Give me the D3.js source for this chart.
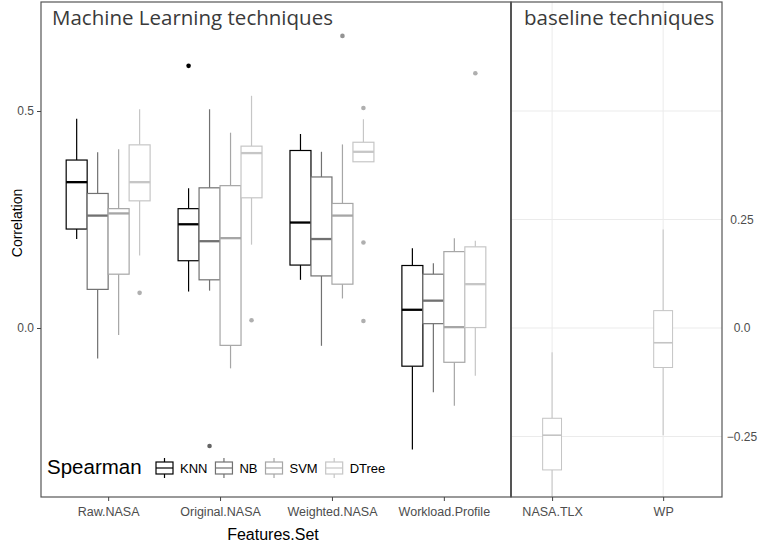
<!DOCTYPE html>
<html>
<head>
<meta charset="utf-8">
<script src="https://cdn.jsdelivr.net/npm/d3@7"></script>
<style>
  html, body { margin: 0; padding: 0; background: #fff; }
  svg { display: block; }
</style>
</head>
<body>
<svg id="chart" width="760" height="546"></svg>
<script>
// Feature sets on the machine-learning side and the baseline techniques
const featureSets = ["Raw.NASA", "Original.NASA", "Weighted.NASA", "Workload.Profile"];
const models = ["KNN", "NB", "SVM", "DTree"];
const baselines = ["NASA.TLX", "WP"];

// Five-number summaries per feature set: [lower whisker, Q1, median, Q3, upper whisker]
const knnStats = [
  [0.205, 0.228, 0.336, 0.387, 0.482],
  [0.084, 0.155, 0.239, 0.275, 0.322],
  [0.111, 0.145, 0.243, 0.409, 0.447],
  [-0.280, -0.088, 0.042, 0.144, 0.184]
];
const nbStats = [
  [-0.070, 0.089, 0.259, 0.310, 0.405],
  [0.086, 0.111, 0.200, 0.323, 0.504],
  [-0.041, 0.120, 0.205, 0.348, 0.406],
  [-0.148, 0.010, 0.063, 0.124, 0.149]
];
const svmStats = [
  [-0.016, 0.124, 0.264, 0.275, 0.412],
  [-0.093, -0.040, 0.207, 0.328, 0.450],
  [0.068, 0.101, 0.259, 0.287, 0.423],
  [-0.179, -0.079, 0.002, 0.176, 0.207]
];
const dtreeStats = [
  [0.167, 0.293, 0.336, 0.422, 0.504],
  [0.192, 0.300, 0.403, 0.419, 0.535],
  [0.383, 0.383, 0.406, 0.428, 0.481],
  [-0.110, 0.001, 0.101, 0.187, 0.201]
];

// Outlying correlations per feature set
const knnOutliers = [[], [0.604], [], []];
const nbOutliers = [[], [-0.272], [], []];
const svmOutliers = [[], [], [0.673], []];
const dtreeOutliers = [[0.081], [0.018], [0.507, 0.197, 0.016], [0.587]];

// Baseline techniques
const baselineStats = [
  [-0.389, -0.327, -0.247, -0.208, -0.056],
  [-0.247, -0.091, -0.034, 0.040, 0.227]
];

// Axis ticks
const leftTicks = [0.0, 0.5];
const rightTicks = [-0.25, 0.0, 0.25];
const rightGrid = [-0.25, 0.0, 0.25, 0.5];

const modelStats = [knnStats, nbStats, svmStats, dtreeStats];
const modelOutliers = [knnOutliers, nbOutliers, svmOutliers, dtreeOutliers];
const modelColors = ["#000000", "#717171", "#a6a6a6", "#c6c6c6"];

const svg = d3.select("#chart");
const panelTop = 2, panelBottom = 497;
const leftPanel = { x0: 41, x1: 511 };
const rightPanel = { x0: 511, x1: 722 };

const y = d3.scaleLinear().domain([-0.25, 0.5]).range([436.5, 111]);
const xL = d3.scaleLinear().domain([0.4, 4.6]).range([leftPanel.x0, leftPanel.x1]);
const xR = d3.scaleLinear().domain([0.63, 2.53]).range([rightPanel.x0, rightPanel.x1]);

const dodge = 0.75 / models.length;          // width of each dodged box in category units
const sansFont = "'Liberation Sans', Arial, sans-serif";

// Right panel grid
const gR = svg.append("g");
gR.selectAll("line.h").data(rightGrid).join("line")
  .attr("x1", rightPanel.x0).attr("x2", rightPanel.x1)
  .attr("y1", d => y(d)).attr("y2", d => y(d))
  .attr("stroke", "#ebebeb").attr("stroke-width", 1);
gR.selectAll("line.v").data(baselines).join("line")
  .attr("x1", (d, i) => xR(i + 1)).attr("x2", (d, i) => xR(i + 1))
  .attr("y1", panelTop).attr("y2", panelBottom)
  .attr("stroke", "#ebebeb").attr("stroke-width", 1);

// Draws one box-and-whisker glyph
function drawBox(g, cx, halfW, s, color, lw, medW) {
  g.append("line").attr("x1", cx).attr("x2", cx)
    .attr("y1", y(s[4])).attr("y2", y(s[3]))
    .attr("stroke", color).attr("stroke-width", lw);
  g.append("line").attr("x1", cx).attr("x2", cx)
    .attr("y1", y(s[1])).attr("y2", y(s[0]))
    .attr("stroke", color).attr("stroke-width", lw);
  g.append("rect")
    .attr("x", cx - halfW).attr("width", 2 * halfW)
    .attr("y", y(s[3])).attr("height", y(s[1]) - y(s[3]))
    .attr("fill", "#fff").attr("stroke", color).attr("stroke-width", lw);
  g.append("line").attr("x1", cx - halfW).attr("x2", cx + halfW)
    .attr("y1", y(s[2])).attr("y2", y(s[2]))
    .attr("stroke", color).attr("stroke-width", medW);
}

// Machine-learning boxes, dodged by model
const gL = svg.append("g");
modelStats.forEach((stats, m) => {
  const color = modelColors[m];
  stats.forEach((s, c) => {
    const center = (c + 1) + (m - (models.length - 1) / 2) * dodge;
    const cx = xL(center);
    const halfW = (xL(dodge) - xL(0)) / 2;
    drawBox(gL, cx, halfW, s, color, 1.2, 2.3);
    gL.selectAll(null).data(modelOutliers[m][c]).join("circle")
      .attr("cx", cx).attr("cy", d => y(d)).attr("r", 2.3)
      .attr("fill", m === 0 ? color : d3.color(color).darker(0.35));
  });
});

// Baseline boxes
baselineStats.forEach((s, i) => {
  const cx = xR(i + 1);
  const halfW = (xR(0.17) - xR(0)) / 2;
  drawBox(gR, cx, halfW, s, "#c4c4c4", 1, 1.6);
});

// Panel frames
svg.append("rect").attr("x", leftPanel.x0).attr("y", panelTop)
  .attr("width", leftPanel.x1 - leftPanel.x0).attr("height", panelBottom - panelTop)
  .attr("fill", "none").attr("stroke", "#555").attr("stroke-width", 1.2);
svg.append("rect").attr("x", rightPanel.x0).attr("y", panelTop)
  .attr("width", rightPanel.x1 - rightPanel.x0).attr("height", panelBottom - panelTop)
  .attr("fill", "none").attr("stroke", "#555").attr("stroke-width", 1.2);
svg.append("line").attr("x1", rightPanel.x0).attr("x2", rightPanel.x0)
  .attr("y1", panelTop).attr("y2", panelBottom).attr("stroke", "#555").attr("stroke-width", 2);

// Left y axis
const axL = svg.append("g").attr("transform", `translate(${leftPanel.x0},0)`)
  .call(d3.axisLeft(y).tickValues(leftTicks).tickFormat(d3.format(".1f")).tickSize(4).tickPadding(3));
axL.select(".domain").remove();
axL.selectAll(".tick line").attr("stroke", "#444");
axL.selectAll(".tick text").attr("fill", "#4d4d4d").style("font-family", sansFont).style("font-size", "12px");

// Right y axis labels
svg.append("g").selectAll("text").data(rightTicks).join("text")
  .attr("x", 742).attr("y", d => y(d)).attr("dy", "0.35em")
  .attr("text-anchor", "middle")
  .attr("fill", "#4d4d4d").style("font-family", sansFont).style("font-size", "12px")
  .text(d => d === 0 ? "0.0" : d3.format(".2f")(d));

// Bottom x axes
const axBL = svg.append("g").attr("transform", `translate(0,${panelBottom})`)
  .call(d3.axisBottom(xL).tickValues([1, 2, 3, 4]).tickFormat((d, i) => featureSets[i]).tickSize(4).tickPadding(6));
const axBR = svg.append("g").attr("transform", `translate(0,${panelBottom})`)
  .call(d3.axisBottom(xR).tickValues([1, 2]).tickFormat((d, i) => baselines[i]).tickSize(4).tickPadding(6));
[axBL, axBR].forEach(a => {
  a.select(".domain").remove();
  a.selectAll(".tick line").attr("stroke", "#444");
  a.selectAll(".tick text").attr("fill", "#4d4d4d").style("font-family", sansFont).style("font-size", "12.5px");
});

// Axis titles
svg.append("text").attr("x", (leftPanel.x0 + leftPanel.x1) / 2 - 3).attr("y", 540)
  .attr("text-anchor", "middle").attr("fill", "#000")
  .style("font-family", sansFont).style("font-size", "16px").text("Features.Set");
svg.append("text").attr("transform", "translate(22,223) rotate(-90)")
  .attr("text-anchor", "middle").attr("fill", "#000")
  .style("font-family", sansFont).style("font-size", "14px").text("Correlation");

// Panel titles
const titleFont = "'Open Sans', 'Noto Sans', sans-serif";
svg.append("text").attr("x", 52).attr("y", 25)
  .attr("fill", "#3a3a3a").style("font-family", titleFont).style("font-size", "20.5px")
  .text("Machine Learning techniques");
svg.append("text").attr("x", 524).attr("y", 25)
  .attr("fill", "#3a3a3a").style("font-family", titleFont).style("font-size", "20.5px")
  .text("baseline techniques");

// Legend
const lg = svg.append("g");
lg.append("text").attr("x", 47).attr("y", 474)
  .attr("fill", "#000").style("font-family", sansFont).style("font-size", "20.5px")
  .text("Spearman");
let lx = 156;
models.forEach((name, m) => {
  const color = modelColors[m];
  const k = lg.append("g");
  k.append("line").attr("x1", lx + 8.5).attr("x2", lx + 8.5).attr("y1", 458).attr("y2", 478)
    .attr("stroke", color).attr("stroke-width", 1.2);
  k.append("rect").attr("x", lx).attr("y", 462).attr("width", 17).attr("height", 12)
    .attr("fill", "#fff").attr("stroke", color).attr("stroke-width", 1.2);
  k.append("line").attr("x1", lx).attr("x2", lx + 17).attr("y1", 468).attr("y2", 468)
    .attr("stroke", color).attr("stroke-width", 1.2);
  const t = k.append("text").attr("x", lx + 24).attr("y", 473)
    .attr("fill", "#000").style("font-family", sansFont).style("font-size", "13px")
    .text(name);
  lx += 24 + t.node().getComputedTextLength() + 8;
});
</script>
</body>
</html>
